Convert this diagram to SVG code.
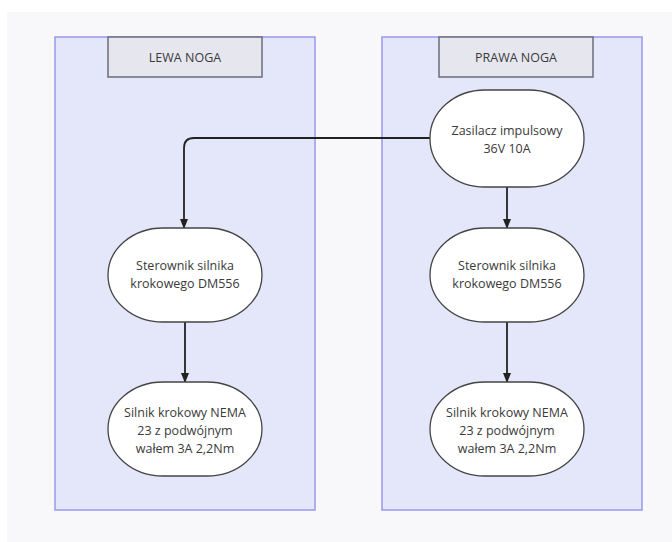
<svg xmlns="http://www.w3.org/2000/svg" width="672" height="542" viewBox="0 0 672 542">
<defs>
<marker id="ah" viewBox="0 0 10 8" refX="9" refY="4" markerWidth="5.8" markerHeight="4.8" orient="auto" markerUnits="strokeWidth">
<path d="M0,0 L10,4 L0,8 z" fill="#222"/>
</marker>
<style>
.cont{fill:#e4e6fa;stroke:#9898ee;stroke-width:1.5}
.lab{fill:#e6e7ee;stroke:#6a6d78;stroke-width:1.5}
.node{fill:#ffffff;stroke:#444;stroke-width:1.3}
.t{font-family:"Open Sans","Noto Sans",sans-serif;font-size:12.5px;fill:#3a3a3a;text-anchor:middle}
.edge{fill:none;stroke:#222;stroke-width:1.8;marker-end:url(#ah)}
</style>
</defs>
<rect width="672" height="542" fill="#ffffff"/>
<rect x="7" y="12" width="665" height="530" fill="#f8f8fa"/>
<g id="lewa">
<rect class="cont" x="55" y="37" width="260" height="473"/>
<rect class="lab" x="108" y="37" width="154" height="40"/>
<text class="t" x="185" y="62">LEWA NOGA</text>
</g>
<g id="prawa">
<rect class="cont" x="382" y="37" width="260" height="473"/>
<rect class="lab" x="439" y="37" width="154" height="40"/>
<text class="t" x="516" y="62">PRAWA NOGA</text>
</g>
<g id="connectors">
<path class="edge" d="M430,138 H194 Q184,138 184,148 V228"/>
<path class="edge" d="M507,187 V228"/>
<path class="edge" d="M185,322 V382"/>
<path class="edge" d="M507,322 V382"/>
</g>
<g id="zasilacz">
<rect class="node" x="430" y="90" width="154" height="97" rx="55" ry="48"/>
<text class="t" x="507" y="135">Zasilacz impulsowy</text>
<text class="t" x="507" y="153">36V 10A</text>
</g>
<g id="sterownik-l">
<rect class="node" x="108" y="228" width="154" height="94" rx="55" ry="47"/>
<text class="t" x="185" y="270">Sterownik silnika</text>
<text class="t" x="185" y="288">krokowego DM556</text>
</g>
<g id="sterownik-p">
<rect class="node" x="430" y="228" width="154" height="94" rx="55" ry="47"/>
<text class="t" x="507" y="270">Sterownik silnika</text>
<text class="t" x="507" y="288">krokowego DM556</text>
</g>
<g id="silnik-l">
<rect class="node" x="108" y="382" width="154" height="94" rx="55" ry="47"/>
<text class="t" x="185" y="417">Silnik krokowy NEMA</text>
<text class="t" x="185" y="435">23 z podwójnym</text>
<text class="t" x="185" y="453">wałem 3A 2,2Nm</text>
</g>
<g id="silnik-p">
<rect class="node" x="430" y="382" width="154" height="94" rx="55" ry="47"/>
<text class="t" x="507" y="417">Silnik krokowy NEMA</text>
<text class="t" x="507" y="435">23 z podwójnym</text>
<text class="t" x="507" y="453">wałem 3A 2,2Nm</text>
</g>
</svg>
